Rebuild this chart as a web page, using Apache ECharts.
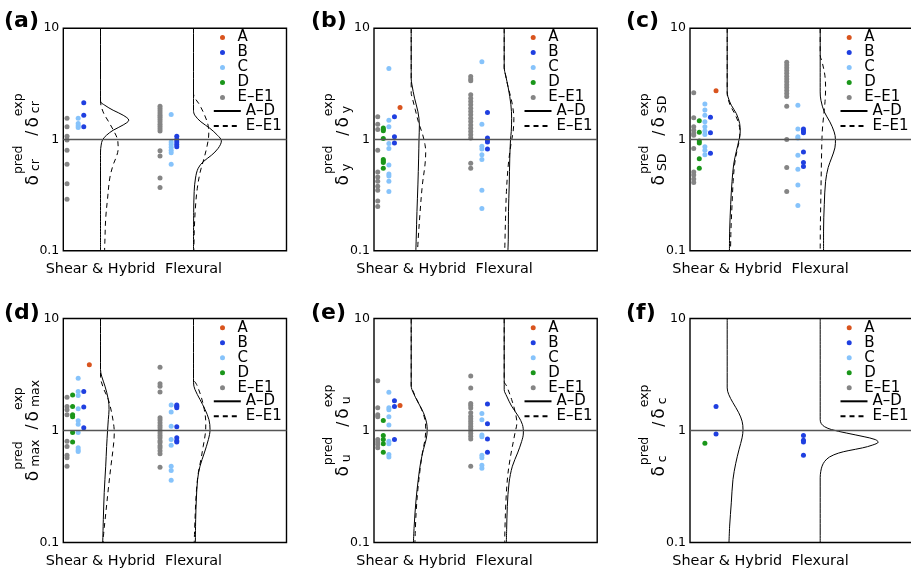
<!DOCTYPE html>
<html><head><meta charset="utf-8">
<script src="https://cdn.jsdelivr.net/npm/echarts@6/dist/echarts.min.js"></script>
<style>html,body{margin:0;padding:0;background:#fff}#c{width:911px;height:573px}</style>
</head><body><div id="c"></div>
<script>
// ---------------- DATA ----------------
const xCategories = ['Shear & Hybrid', 'Flexural'];
const groupNames = ['A', 'B', 'C', 'D', 'E–E1'];
const curveNames = ['A–D', 'E–E1'];
const yTickValues = [0.1, 1, 10];
const yTickLabels = ['0.1', '1', '10'];
const panelLetters = ['(a)', '(b)', '(c)', '(d)', '(e)', '(f)'];
const panelSubs = ['cr', 'y', 'SD', 'max', 'u', 'c'];

// (a) delta_cr
const aShA = [], aShB = [2.14, 1.65, 1.30], aShC = [1.55, 1.39, 1.33, 1.28], aShD = [];
const aShE = [1.55, 1.30, 1.07, 0.99, 0.80, 0.60, 0.40, 0.29];
const aFlA = [], aFlB = [1.07, 1.00, 0.95, 0.90, 0.86], aFlC = [1.68, 0.95, 0.90, 0.85, 0.80, 0.76, 0.60], aFlD = [];
const aFlE = [1.99, 1.90, 1.81, 1.73, 1.65, 1.58, 1.51, 1.44, 1.37, 1.31, 1.25, 1.19, 0.79, 0.71, 0.45, 0.37];
// (b) delta_y
const bShA = [1.94], bShB = [1.60, 1.06, 0.93];
const bShC = [4.35, 1.49, 1.30, 0.92, 0.83, 0.59, 0.49, 0.47, 0.42, 0.34];
const bShD = [1.27, 1.23, 1.20, 1.02, 0.66, 0.64, 0.62, 0.55];
const bShE = [1.60, 1.37, 1.23, 0.80, 0.51, 0.46, 0.42, 0.38, 0.35, 0.28, 0.25];
const bFlA = [], bFlB = [1.75, 1.03, 0.99, 0.95, 0.82], bFlC = [5.0, 1.37, 0.87, 0.82, 0.73, 0.66, 0.35, 0.24], bFlD = [];
const bFlE = [3.68, 3.50, 3.37, 2.52, 2.35, 2.19, 2.05, 1.91, 1.78, 1.67, 1.55, 1.45, 1.35, 1.26, 1.18, 1.10, 1.03, 0.61, 0.55];
// (c) delta_SD
const cShA = [2.74], cShB = [1.58, 1.15, 0.75];
const cShC = [2.08, 1.84, 1.65, 1.44, 1.30, 1.19, 1.11, 0.86, 0.80, 0.73];
const cShD = [1.47, 1.16, 0.97, 0.93, 0.67, 0.55];
const cShE = [2.63, 1.57, 1.30, 1.21, 1.13, 1.09, 0.83, 0.51, 0.48, 0.44, 0.41];
const cFlA = [], cFlB = [1.24, 1.19, 1.15, 0.77, 0.62, 0.57], cFlC = [2.03, 1.24, 1.06, 1.03, 0.72, 0.54, 0.39, 0.255], cFlD = [];
const cFlE = [4.95, 4.68, 4.42, 4.16, 3.94, 3.70, 3.50, 3.30, 3.10, 2.93, 2.76, 2.59, 2.43, 1.99, 1.00, 0.56, 0.34];
// (d) delta_max
const dShA = [3.86], dShB = [2.23, 1.62, 1.06];
const dShC = [2.93, 2.23, 2.05, 1.56, 1.22, 1.14, 0.96, 0.70, 0.67, 0.65];
const dShD = [2.08, 1.64, 1.38, 1.33, 0.96, 0.79];
const dShE = [1.98, 1.64, 1.53, 1.38, 0.80, 0.72, 0.60, 0.57, 0.48];
const dFlA = [], dFlB = [1.69, 1.65, 1.60, 1.08, 0.86, 0.81, 0.79], dFlC = [1.69, 1.46, 1.09, 0.83, 0.74, 0.48, 0.44, 0.36], dFlD = [];
const dFlE = [3.68, 2.61, 2.49, 2.21, 1.30, 1.24, 1.17, 1.11, 1.06, 1.00, 0.95, 0.90, 0.86, 0.81, 0.78, 0.73, 0.70, 0.66, 0.62, 0.47];
// (e) delta_u
const eShA = [1.67], eShB = [1.84, 1.64, 0.83];
const eShC = [2.20, 1.60, 1.53, 1.33, 1.12, 0.80, 0.76, 0.61, 0.58];
const eShD = [1.23, 0.90, 0.83, 0.76, 0.64];
const eShE = [2.78, 1.60, 1.38, 1.33, 0.83, 0.79, 0.75, 0.70];
const eFlA = [], eFlB = [1.72, 1.15, 0.84, 0.64], eFlC = [1.42, 1.25, 0.91, 0.88, 0.60, 0.57, 0.49, 0.46], eFlD = [];
const eFlE = [3.06, 2.40, 1.74, 1.67, 1.59, 1.44, 1.34, 1.27, 1.21, 1.15, 1.09, 1.04, 0.99, 0.94, 0.89, 0.84, 0.48];
// (f) delta_c
const fShA = [], fShB = [1.64, 0.93], fShC = [], fShD = [0.77], fShE = [];
const fFlA = [], fFlB = [0.90, 0.82, 0.79, 0.60], fFlC = [], fFlD = [], fFlE = [];

// density curves: [ratio, density] from top (10) to bottom (0.1)
const aShSolid = [[10,0],[2.21,0],[2.03,1.16],[1.83,3.4],[1.65,6.1],[1.49,7.6],[1.35,6.1],[1.21,3.4],[1.09,1.6],[0.99,0.54],[0.89,0.18],[0.77,0],[0.1,0]];
const aShDash  = [[10,0],[2.21,0],[1.77,0.7],[1.44,2.2],[1.17,3.7],[0.99,4.6],[0.83,4.75],[0.72,4.4],[0.59,3.4],[0.45,2.5],[0.295,1.9],[0.195,1.4],[0.129,1.2],[0.1,1.1]];
const aFlSolid = [[10,0],[1.83,0],[1.65,0.36],[1.44,2.0],[1.26,4.4],[1.09,6.45],[0.97,7.5],[0.83,6.6],[0.72,4.8],[0.63,2.6],[0.55,1.25],[0.45,0.54],[0.34,0.18],[0.22,0.05],[0.1,0]];
const aFlDash  = [[10,0],[2.59,0],[2.03,1.7],[1.65,3.0],[1.35,3.9],[1.12,4.1],[0.89,3.7],[0.67,2.8],[0.51,1.8],[0.36,1.0],[0.24,0.5],[0.15,0.2],[0.1,0.1]];
const bShSolid = [[10,0],[3.5,0],[3.1,0.2],[2.35,0.9],[1.78,1.8],[1.35,2.2],[1,2.1],[0.68,2.0],[0.39,1.8],[0.225,1.55],[0.13,1.35],[0.1,1.25]];
const bShDash  = [[10,0],[2.6,0],[2.43,0.2],[1.85,1.1],[1.45,1.9],[1.1,3.1],[0.9,3.7],[0.78,3.9],[0.59,3.7],[0.39,3.0],[0.225,2.4],[0.13,1.9],[0.1,1.7]];
const bFlSolid = [[10,0],[4.4,0],[3.8,0.36],[2.9,1.1],[2.05,1.8],[1.55,2.0],[1.18,1.9],[1,1.7],[0.68,1.5],[0.39,1.35],[0.225,1.15],[0.13,1.1],[0.1,1.0]];
const bFlDash  = [[10,0],[4.4,0],[3.8,0.36],[2.9,1.1],[2.6,1.5],[2.05,2.2],[1.55,2.6],[1.18,2.4],[0.9,1.8],[0.59,1.1],[0.34,0.6],[0.196,0.36],[0.12,0.2],[0.1,0.15]];
const cShSolid = [[10,0],[2.68,0],[2.42,0.2],[2.03,1.1],[1.71,2.45],[1.39,3.35],[1.17,3.5],[1,3.2],[0.78,2.45],[0.6,1.75],[0.42,1.3],[0.26,0.93],[0.15,0.66],[0.1,0.6]];
const cShDash  = [[10,0],[2.68,0],[2.42,0.1],[2.03,0.8],[1.71,2.0],[1.39,3.1],[1.17,3.4],[1,3.3],[0.78,2.6],[0.6,2.0],[0.42,1.6],[0.26,1.3],[0.15,1.0],[0.1,0.9]];
const cFlSolid = [[10,0],[2.68,0],[2.25,0.2],[1.77,1.1],[1.44,2.6],[1.17,3.75],[1,4.1],[0.84,3.95],[0.68,3.05],[0.56,2.15],[0.42,1.45],[0.26,1.1],[0.15,0.9],[0.1,0.9]];
const cFlDash  = [[10,0],[5.7,0],[4.99,0.5],[3.78,1.25],[2.9,1.45],[2.2,1.3],[1.6,0.9],[1.17,0.55],[0.68,0.35],[0.34,0.2],[0.17,0.05],[0.1,0]];
const dShSolid = [[10,0],[3.5,0],[3.06,0.3],[2.49,1.2],[1.89,2.1],[1.54,2.3],[1.25,2.1],[1,1.9],[0.72,1.65],[0.48,1.4],[0.28,1.0],[0.16,0.76],[0.1,0.6]];
const dShDash  = [[10,0],[3.06,0],[2.4,0.76],[1.89,2.1],[1.44,3.0],[1.09,3.6],[0.95,3.7],[0.72,3.45],[0.48,2.8],[0.3,2.1],[0.18,1.4],[0.12,0.85],[0.1,0.67]];
const dFlSolid = [[10,0],[2.67,0],[2.32,0.4],[1.89,1.75],[1.54,3.1],[1.25,4.15],[1.02,4.45],[0.83,4.0],[0.63,2.9],[0.48,1.75],[0.365,1.1],[0.24,0.76],[0.16,0.58],[0.1,0.5]];
const dFlDash  = [[10,0],[2.9,0],[2.57,0.85],[2.03,2.0],[1.54,2.9],[1.17,3.3],[0.95,3.2],[0.72,2.6],[0.55,2.0],[0.42,1.3],[0.28,0.76],[0.16,0.4],[0.1,0.2]];
const eShSolid = [[10,0],[2.5,0],[2.17,0.57],[1.77,1.9],[1.44,3.3],[1.17,4.15],[1,4.3],[0.83,4.0],[0.68,3.3],[0.51,2.5],[0.365,1.9],[0.24,1.3],[0.14,0.8],[0.1,0.6]];
const eShDash  = [[10,0],[2.5,0],[2.33,0.3],[1.89,1.5],[1.54,2.8],[1.25,3.7],[1.02,3.9],[0.83,3.7],[0.63,3.0],[0.45,2.4],[0.30,1.8],[0.18,1.3],[0.1,1.0]];
const eFlSolid = [[10,0],[2.32,0],[2.03,0.66],[1.65,2.0],[1.34,3.8],[1.13,4.9],[0.95,5.15],[0.80,4.7],[0.63,3.6],[0.48,2.2],[0.34,1.3],[0.21,0.84],[0.13,0.66],[0.1,0.57]];
const eFlDash  = [[10,0],[2.75,0],[2.49,0.66],[1.89,2.0],[1.44,3.0],[1.17,3.4],[0.95,2.9],[0.72,2.2],[0.55,1.55],[0.39,0.93],[0.24,0.48],[0.14,0.22],[0.1,0.13]];
const fShSolid = [[10,0],[2.4,0],[2.1,0.4],[1.77,1.55],[1.44,3.1],[1.21,4.0],[1.02,4.25],[0.86,4.0],[0.68,3.2],[0.51,2.3],[0.365,1.55],[0.226,1.1],[0.14,0.66],[0.1,0.48]];
const fShDash  = [];
const fFlSolid = [[10,0],[1.25,0],[1.15,0.3],[1.08,1.2],[1.02,3.0],[0.95,7.0],[0.88,11.8],[0.83,14.8],[0.788,15.6],[0.74,14.0],[0.70,11.4],[0.66,7.5],[0.628,4.9],[0.58,2.5],[0.53,1.2],[0.48,0.5],[0.43,0.15],[0.38,0],[0.1,0]];
const fFlDash  = [];

// ---------------- LAYOUT / STYLE ----------------
const FONT = 'DejaVu Sans';
const colors = {'A': '#d9541e', 'B': '#1f3fe0', 'C': '#86c3fb', 'D': '#1a961a', 'E–E1': '#858585'};
const shearBase = 10, flexBase = 35;
const colOffset = {'A': -3, 'B': -4.5, 'C': -6, 'D': -7.5, 'E–E1': -9};
const unitPx = 223.2 / 60;
const layouts = [
  {left: 63.3, top: 28.2, h: 222.5, xMax: 60, tx: 4, ty: 10},
  {left: 374, top: 28.2, h: 222.5, xMax: 60, tx: 311, ty: 10},
  {left: 690, top: 28.2, h: 222.5, xMax: 64, tx: 626, ty: 10},
  {left: 63.3, top: 318.5, h: 224, xMax: 60, tx: 4, ty: 302},
  {left: 374, top: 318.5, h: 224, xMax: 60, tx: 311, ty: 302},
  {left: 690, top: 318.5, h: 224, xMax: 64, tx: 626, ty: 302}
];
const dots = [
  {sh: [aShA, aShB, aShC, aShD, aShE], fl: [aFlA, aFlB, aFlC, aFlD, aFlE]},
  {sh: [bShA, bShB, bShC, bShD, bShE], fl: [bFlA, bFlB, bFlC, bFlD, bFlE]},
  {sh: [cShA, cShB, cShC, cShD, cShE], fl: [cFlA, cFlB, cFlC, cFlD, cFlE]},
  {sh: [dShA, dShB, dShC, dShD, dShE], fl: [dFlA, dFlB, dFlC, dFlD, dFlE]},
  {sh: [eShA, eShB, eShC, eShD, eShE], fl: [eFlA, eFlB, eFlC, eFlD, eFlE]},
  {sh: [fShA, fShB, fShC, fShD, fShE], fl: [fFlA, fFlB, fFlC, fFlD, fFlE]}
];
// panel (f) places its shear-group columns differently
const fShearOffset = {'B': -3, 'D': -6};
const curves = [
  [aShSolid, aShDash, aFlSolid, aFlDash],
  [bShSolid, bShDash, bFlSolid, bFlDash],
  [cShSolid, cShDash, cFlSolid, cFlDash],
  [dShSolid, dShDash, dFlSolid, dFlDash],
  [eShSolid, eShDash, eFlSolid, eFlDash],
  [fShSolid, fShDash, fFlSolid, fFlDash]
];

const grids = [], xAxes = [], yAxes = [], series = [], legends = [], graphics = [];
const measureCtx = document.createElement('canvas').getContext('2d');
function tw(t, size) { measureCtx.font = size + 'px "' + FONT + '"'; return measureCtx.measureText(t).width; }

layouts.forEach((L, i) => {
  grids.push({left: L.left, top: L.top, width: unitPx * L.xMax, height: L.h, show: true, borderColor: '#000', borderWidth: 1.4,
    backgroundColor: '#fff', containLabel: false, outerBoundsMode: 'none'});
  xAxes.push({
    type: 'value', gridIndex: i, min: 0, max: L.xMax, interval: 5,
    axisLine: {show: false}, axisTick: {show: false}, splitLine: {show: false},
    axisLabel: {
      margin: 12, color: '#000', fontFamily: FONT, fontSize: 14.4, showMinLabel: true, showMaxLabel: true,
      formatter: v => (Math.abs(v - shearBase) < 1e-6 ? xCategories[0] : Math.abs(v - flexBase) < 1e-6 ? xCategories[1] : '')
    }
  });
  yAxes.push({
    type: 'log', logBase: 10, gridIndex: i, min: 0.1, max: 10,
    axisLine: {show: false},
    axisTick: {show: false},
    splitLine: {show: false},
    axisLabel: {
      margin: 4, color: '#000', fontFamily: FONT, fontSize: 12.5,
      formatter: v => { for (let k = 0; k < yTickValues.length; k++) { if (Math.abs(Math.log10(v) - Math.log10(yTickValues[k])) < 1e-6) return yTickLabels[k]; } return ''; }
    }
  });
  // scatter dots
  groupNames.forEach((g, gi) => {
    const shOff = (i === 5 && fShearOffset[g] !== undefined) ? fShearOffset[g] : colOffset[g];
    const data = dots[i].sh[gi].map(v => [shearBase + shOff, v]).concat(dots[i].fl[gi].map(v => [flexBase + colOffset[g], v]));
    series.push({
      type: 'scatter', name: g, xAxisIndex: i, yAxisIndex: i, symbol: 'circle', symbolSize: 5,
      itemStyle: {color: colors[g], opacity: 1}, data: data, z: 3, silent: true
    });
  });
  // curves
  const cv = curves[i];
  [[cv[0], shearBase, 'solid'], [cv[1], shearBase, 'dashed'], [cv[2], flexBase, 'solid'], [cv[3], flexBase, 'dashed']].forEach(([pts, base, st]) => {
    series.push({
      type: 'line', name: st === 'solid' ? curveNames[0] : curveNames[1] + ' ',
      xAxisIndex: i, yAxisIndex: i, symbol: 'none', smooth: 0.35, silent: true, z: 2,
      itemStyle: {color: '#000'},
      lineStyle: {color: '#000', width: 1, type: st === 'solid' ? 'solid' : [5, 4]},
      data: pts.map(p => [base + p[1], p[0]])
    });
  });
  // reference line at ratio = 1
  series.push({
    type: 'line', xAxisIndex: i, yAxisIndex: i, data: [], silent: true,
    markLine: {silent: true, symbol: 'none', label: {show: false}, lineStyle: {color: '#555', width: 1.3, type: 'solid'}, data: [{yAxis: 1}]}
  });
  // legends
  legends.push({
    left: L.left + 156.7, top: L.top + 1.8, orient: 'vertical', itemWidth: 20, itemHeight: 5, itemGap: 0, padding: 0,
    data: groupNames.slice(), selectedMode: false,
    textStyle: {fontFamily: FONT, fontSize: 15, color: '#000', lineHeight: 14.7}
  });
  legends.push({
    left: L.left + 149.5, top: L.top + 1.8 + 5 * 14.7, orient: 'vertical', itemWidth: 27, itemHeight: 5, itemGap: 0, padding: 0,
    data: [curveNames[0], curveNames[1] + ' '], selectedMode: false, formatter: n => n.trim(),
    itemStyle: {opacity: 0},
    textStyle: {fontFamily: FONT, fontSize: 15, color: '#000', lineHeight: 14.7}
  });
  // panel letter
  graphics.push({type: 'text', left: L.tx, top: L.ty, style: {text: panelLetters[i], font: 'bold 22px "' + FONT + '"', fill: '#000'}});
  // y-axis title: delta_sub^pred / delta_sub^exp, rotated
  const sub = panelSubs[i];
  const big = 17, small = 12.5;
  const wD = tw('δ', big);
  const parts = [];
  let x = 0;
  parts.push({t: 'δ', x: x, y: 0, s: big}); x += wD + 1;
  parts.push({t: 'pred', x: x, y: -15, s: small}); parts.push({t: sub, x: x + 3, y: 2.5, s: small});
  x += Math.max(tw('pred', small), tw(sub, small) + 3) + 10;
  parts.push({t: '/', x: x, y: 0, s: 15}); x += tw('/', 15) + 3;
  parts.push({t: 'δ', x: x, y: 0, s: big}); x += wD + 1;
  parts.push({t: 'exp', x: x, y: -15, s: small}); parts.push({t: sub, x: x + 3, y: 2.5, s: small});
  x += Math.max(tw('exp', small), tw(sub, small) + 3);
  const total = x;
  const cy = L.top + L.h / 2;
  graphics.push({
    type: 'group', x: L.left - 30, y: cy + total / 2, rotation: Math.PI / 2,
    children: parts.map(p => ({type: 'text', x: p.x, y: p.y, style: {text: p.t, font: p.s + 'px "' + FONT + '"', fill: '#000', textAlign: 'left', textVerticalAlign: 'middle'}}))
  });
});

const chart = echarts.init(document.getElementById('c'), null, {renderer: 'canvas'});
chart.setOption({
  animation: false, backgroundColor: '#fff',
  grid: grids, xAxis: xAxes, yAxis: yAxes, series: series, legend: legends, graphic: graphics
});
</script></body></html>
